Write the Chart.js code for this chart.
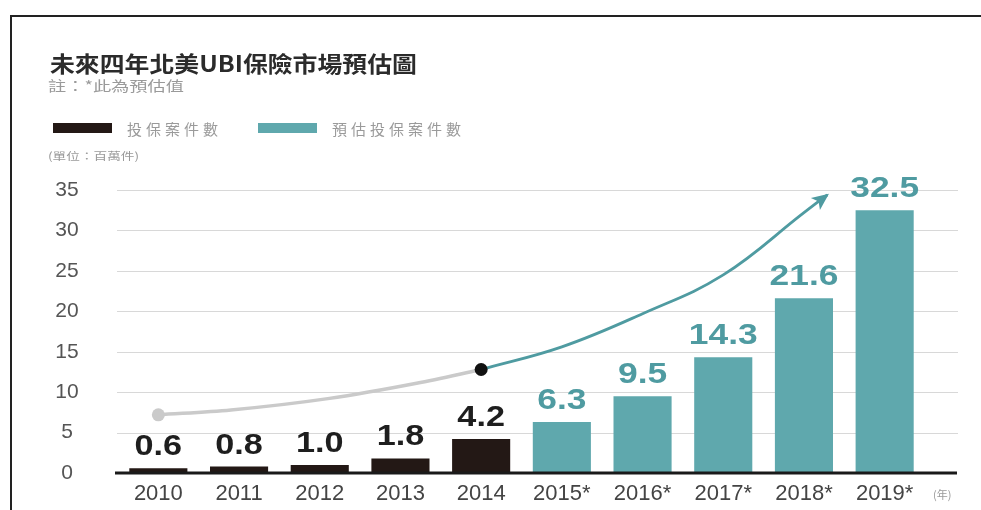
<!DOCTYPE html>
<html>
<head>
<meta charset="utf-8">
<script src="https://cdn.jsdelivr.net/npm/chart.js@4/dist/chart.umd.min.js"></script>
<style>
    html, body { margin: 0; padding: 0; background: #fff; overflow: hidden; }
    #wrap { position: relative; width: 981px; height: 510px; }
    #marco { position: absolute; left: 10px; top: 15px; width: 1000px; height: 520px;
             border-top: 2.5px solid #222; border-left: 2.5px solid #222; }
    .txt { position: absolute; white-space: nowrap; transform-origin: left center;
           font-family: "Noto Sans CJK TC", "Noto Sans", sans-serif; line-height: 1; }
    #titulo { left: 50px; top: 51px; font-size: 22px; font-weight: 700; color: #2b2b2b; transform: scaleX(1.13); }
    #nota { left: 48px; top: 78px; font-size: 14px; color: #9a9a9a; transform: scaleX(1.3); }
    #unidad { left: 48px; top: 151px; font-size: 10.5px; color: #9a9a9a; transform: scaleX(1.3); }
    .caja { position: absolute; top: 123px; width: 59px; height: 10px; }
    .leyenda { top: 121px; font-size: 15px; letter-spacing: 4px; color: #9a9a9a; }
    #grafica { position: absolute; left: 0; top: 0; }
</style>
</head>
<body>
<div id="wrap">
    <canvas id="grafica" width="981" height="510"></canvas>
    <div id="marco"></div>
    <div class="txt" id="titulo">未來四年北美UBI保險市場預估圖</div>
    <div class="txt" id="nota">註：*此為預估值</div>
    <div id="leyendas"></div>
    <div class="txt" id="unidad">(單位：百萬件)</div>
</div>
<script>
    // 年份與投保案件數（百萬件）
    var anios = ['2010', '2011', '2012', '2013', '2014', '2015*', '2016*', '2017*', '2018*', '2019*'];
    var casosReales = [0.6, 0.8, 1.0, 1.8, 4.2, null, null, null, null, null];
    var casosEstimados = [null, null, null, null, null, 6.3, 9.5, 14.3, 21.6, 32.5];

    // 趨勢箭頭（x 為年份索引）
    var tendenciaPasadaX = [0, 0.9, 2.1, 3.2, 4];
    var tendenciaPasadaY = [7.2, 7.8, 9.2, 11.1, 12.8];
    var tendenciaFuturaX = [4, 5, 6, 7, 8, 8.29];
    var tendenciaFuturaY = [12.8, 15.6, 19.7, 24.5, 32.2, 34.4];

    // y 軸刻度
    var ticksY = [0, 5, 10, 15, 20, 25, 30, 35];

    var colorNegro = '#231815';
    var colorVerde = '#5fa8ad';
    var colorTextoVerde = '#4f9ba1';

    function aPuntos(xs, ys) {
        return xs.map(function (x, i) { return { x: x, y: ys[i] }; });
    }

    // 圖例
    var leyendas = [
        { texto: '投保案件數', color: colorNegro, caja: 53, x: 127 },
        { texto: '預估投保案件數', color: colorVerde, caja: 258, x: 332 }
    ];
    var contLeyendas = document.getElementById('leyendas');
    leyendas.forEach(function (l) {
        var c = document.createElement('div');
        c.className = 'caja';
        c.style.left = l.caja + 'px';
        c.style.background = l.color;
        contLeyendas.appendChild(c);
        var t = document.createElement('div');
        t.className = 'txt leyenda';
        t.style.left = l.x + 'px';
        t.textContent = l.texto;
        contLeyendas.appendChild(t);
    });

    // 格線延伸到圖區右側之外，底線為黑色粗線，y 軸數字置中
    var pluginGrilla = {
        id: 'grilla',
        beforeDatasetsDraw: function (chart) {
            var ctx = chart.ctx, area = chart.chartArea, y = chart.scales.y;
            ctx.save();
            ctx.strokeStyle = '#d8d8d8';
            ctx.lineWidth = 1.2;
            ticksY.forEach(function (v) {
                if (v === 0) return;
                var py = Math.round(y.getPixelForValue(v)) + 0.5;
                ctx.beginPath();
                ctx.moveTo(area.left - 1, py);
                ctx.lineTo(area.right + 33, py);
                ctx.stroke();
            });
            ctx.fillStyle = '#555';
            ctx.font = '21px "Liberation Sans"';
            ctx.textAlign = 'center';
            ctx.textBaseline = 'middle';
            ticksY.forEach(function (v) {
                ctx.fillText(String(v), area.left - 51, y.getPixelForValue(v));
            });
            ctx.restore();
        },
        afterDatasetsDraw: function (chart) {
            var ctx = chart.ctx, area = chart.chartArea, y = chart.scales.y;
            ctx.save();
            ctx.strokeStyle = '#1a1a1a';
            ctx.lineWidth = 3;
            var py = y.getPixelForValue(0);
            ctx.beginPath();
            ctx.moveTo(area.left - 3, py);
            ctx.lineTo(area.right + 32, py);
            ctx.stroke();

            ctx.fillStyle = '#9a9a9a';
            ctx.font = '11px "Noto Sans CJK TC"';
            ctx.textBaseline = 'middle';
            ctx.fillText('(年)', area.right + 8, area.bottom + 22);
            ctx.restore();
        }
    };

    // 長條上方的數值
    var pluginValores = {
        id: 'valores',
        afterDatasetsDraw: function (chart) {
            var ctx = chart.ctx;
            chart.data.datasets.forEach(function (ds, i) {
                if (ds.type === 'line') return;
                var meta = chart.getDatasetMeta(i);
                meta.data.forEach(function (barra, j) {
                    var v = ds.data[j];
                    if (v === null) return;
                    ctx.save();
                    ctx.translate(barra.x, barra.y - 13);
                    ctx.scale(1.18, 1);
                    ctx.fillStyle = ds.colorValor;
                    ctx.font = ds.fuenteValor;
                    ctx.textAlign = 'center';
                    ctx.textBaseline = 'alphabetic';
                    ctx.fillText(v.toFixed(1), 0, 0);
                    ctx.restore();
                });
            });
        }
    };

    // 趨勢線末端箭頭
    var pluginFlecha = {
        id: 'flecha',
        afterDatasetsDraw: function (chart) {
            var meta = chart.getDatasetMeta(3);
            var pts = meta.data;
            var fin = pts[pts.length - 1];
            var prev = pts[pts.length - 2];
            var dx = fin.x - (fin.cp1x !== undefined ? fin.cp1x : prev.x);
            var dy = fin.y - (fin.cp1y !== undefined ? fin.cp1y : prev.y);
            var ang = Math.atan2(dy, dx);
            var ctx = chart.ctx;
            ctx.save();
            ctx.translate(fin.x, fin.y);
            ctx.rotate(ang);
            ctx.fillStyle = colorTextoVerde;
            ctx.beginPath();
            ctx.moveTo(2, 0);
            ctx.lineTo(-15, -7.5);
            ctx.lineTo(-11, 0);
            ctx.lineTo(-15, 7.5);
            ctx.closePath();
            ctx.fill();
            ctx.restore();
        }
    };

    var ctx = document.getElementById('grafica').getContext('2d');
    var grafica = new Chart(ctx, {
        type: 'bar',
        data: {
            labels: anios,
            datasets: [{
                label: '投保案件數',
                data: casosReales,
                backgroundColor: colorNegro,
                colorValor: '#1e1e1e',
                fuenteValor: 'bold 29px "Liberation Sans"',
                order: 2
            }, {
                label: '預估投保案件數',
                data: casosEstimados,
                backgroundColor: colorVerde,
                colorValor: colorTextoVerde,
                fuenteValor: 'bold 30px "Liberation Sans"',
                order: 2
            }, {
                type: 'line',
                label: 'tendencia pasada',
                xAxisID: 'xc',
                data: aPuntos(tendenciaPasadaX, tendenciaPasadaY),
                borderColor: '#cacaca',
                borderWidth: 3.5,
                cubicInterpolationMode: 'monotone',
                pointRadius: function (c) { return c.dataIndex === 0 ? 6.5 : 0; },
                pointBackgroundColor: '#cacaca',
                pointBorderWidth: 0,
                order: 1
            }, {
                type: 'line',
                label: 'tendencia futura',
                xAxisID: 'xc',
                data: aPuntos(tendenciaFuturaX, tendenciaFuturaY),
                borderColor: colorTextoVerde,
                borderWidth: 2.8,
                tension: 0.4,
                pointRadius: function (c) { return c.dataIndex === 0 ? 6.5 : 0; },
                pointBackgroundColor: '#111',
                pointBorderWidth: 0,
                order: 0
            }]
        },
        options: {
            responsive: false,
            animation: false,
            grouped: false,
            categoryPercentage: 0.9,
            barPercentage: 0.8,
            layout: { padding: { left: 50, top: 190, right: 56, bottom: 0 } },
            plugins: {
                legend: { display: false },
                tooltip: { enabled: false }
            },
            scales: {
                x: {
                    grid: { display: false, drawTicks: false },
                    border: { display: false },
                    ticks: {
                        color: '#444',
                        font: { family: 'Liberation Sans', size: 22 },
                        padding: 8,
                        maxRotation: 0
                    },
                    afterFit: function (s) { s.height = 37; }
                },
                xc: {
                    type: 'linear',
                    display: false,
                    offset: false,
                    min: -0.5,
                    max: 9.5
                },
                y: {
                    min: ticksY[0],
                    max: ticksY[ticksY.length - 1],
                    grid: { display: false, drawTicks: false },
                    border: { display: false },
                    ticks: { display: false, stepSize: ticksY[1] - ticksY[0] },
                    afterFit: function (s) { s.width = 68; }
                }
            }
        },
        plugins: [pluginGrilla, pluginValores, pluginFlecha]
    });
</script>
</body>
</html>
